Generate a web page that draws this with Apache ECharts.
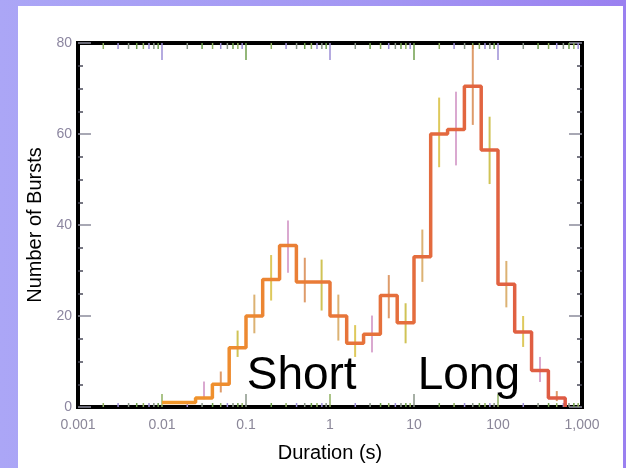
<!DOCTYPE html>
<html>
<head>
<meta charset="utf-8">
<script src="https://cdn.jsdelivr.net/npm/echarts@6/dist/echarts.min.js"></script>
<style>
  html, body {
    margin: 0;
    padding: 0;
    width: 626px;
    height: 468px;
    overflow: hidden;
    background: linear-gradient(90deg, #aba6f6 0%, #a396f3 60%, #9a80f0 100%);
  }
  .panel {
    position: absolute;
    left: 18px;
    top: 6px;
    width: 605px;
    height: 462px;
    background: #fff;
  }
  #chart {
    position: absolute;
    left: 0;
    top: 0;
    width: 626px;
    height: 468px;
  }
</style>
</head>
<body>
<div class="panel"></div>
<div id="chart"></div>
<script>
// bin edges in seconds (0.2 dex bins)
const binEdges = [0.01, 0.0158, 0.0251, 0.0398, 0.0631, 0.1, 0.158, 0.251, 0.398, 0.631,
  1, 1.58, 2.51, 3.98, 6.31, 10, 15.8, 25.1, 39.8, 63.1, 100, 158, 251, 398, 631];
// number of bursts per bin
const burstCounts = [1, 1, 2, 5, 13, 20, 28, 35.5, 27.5, 27.5, 20, 14, 16, 24.5, 18.5,
  33, 60, 61, 70.5, 56.5, 27, 16.5, 8, 2];
// error bar ends (null = no bar)
const errLow = [null, null, 1.7, 3.2, 11, 16.2, 23.4, 29.5, 23, 21.2, 14.6, 11, 12, 19.5, 14,
  27.5, 52.7, 53.1, 62, 49, 21.9, 13.2, 5.5, 1.3];
const errHigh = [null, null, 5.6, 7.8, 16.8, 24.7, 33.4, 41, 32.8, 32.4, 24.7, 18, 20.1, 29, 22.8,
  39, 68, 69.3, 79.6, 63.8, 32.1, 20, 11, 3.5];
// x axis
const decades = [0.001, 0.01, 0.1, 1, 10, 100, 1000];
const xTickLabels = ['0.001', '0.01', '0.1', '1', '10', '100', '1,000'];
const minorSteps = [2, 3, 4, 5, 6, 7, 8, 9];
// text annotations
const annotText = ['Short', 'Long'];
const annotX = [0.46, 45];
const annotY = [6.8, 6.8];

// styles
const errColors = ['#d6a45a', '#d8c040', '#d49ac8', '#d88a50', '#c8b838'];
const tickColors = ['#8fb060', '#9d8fd6', '#8a9688', '#6f9f4c'];
const fontFamily = "'Liberation Sans', Arial, sans-serif";

const stepData = binEdges.slice(0, burstCounts.length).map((e, i) => [e, burstCounts[i]]);
stepData.push([binEdges[burstCounts.length], 0]);

const errData = [];
burstCounts.forEach((c, i) => {
  if (errLow[i] == null) return;
  const center = Math.sqrt(binEdges[i] * binEdges[i + 1]);
  errData.push([center, errLow[i], errHigh[i], i % errColors.length]);
});

// log axis tick marks along top and bottom edges: [value, side, major]
const tickData = [];
decades.forEach((d, di) => {
  [0, 1].forEach(side => {
    if (di > 0 && di < decades.length - 1) tickData.push([d, side, 1]);
    if (di < decades.length - 1) {
      minorSteps.forEach(m => tickData.push([d * m, side, 0]));
    }
  });
});

const annotData = annotText.map((t, i) => [annotX[i], annotY[i], t]);

const chart = echarts.init(document.getElementById('chart'));

const option = {
  animation: false,
  grid: {
    left: 78,
    right: 44,
    top: 43,
    bottom: 59,
    show: true,
    borderColor: '#000',
    borderWidth: 4,
    backgroundColor: 'transparent'
  },
  xAxis: {
    type: 'log',
    logBase: 10,
    min: 0.001,
    max: 1000,
    axisLine: { show: false },
    axisTick: { show: false },
    splitLine: { show: false },
    axisLabel: {
      color: '#8a8698',
      fontSize: 14,
      fontFamily: fontFamily,
      margin: 11,
      formatter: v => xTickLabels[Math.round(Math.log10(v)) + 3]
    },
    name: 'Duration (s)',
    nameLocation: 'middle',
    nameGap: 36,
    nameTextStyle: { color: '#000', fontSize: 20, fontFamily: fontFamily }
  },
  yAxis: [
    {
      type: 'value',
      min: 0,
      max: 80,
      interval: 20,
      position: 'left',
      axisLine: { show: false },
      splitLine: { show: false },
      axisTick: { show: true, inside: true, length: 13, lineStyle: { color: '#8c8c9c', width: 1.5 } },
      minorTick: { show: true, splitNumber: 4, length: 5, lineStyle: { color: '#4a4a5a', width: 1.5 } },
      axisLabel: { color: '#8c86a0', fontSize: 14, fontFamily: fontFamily, margin: 6 },
      name: 'Number of Bursts',
      nameLocation: 'middle',
      nameGap: 32,
      nameTextStyle: { color: '#000', fontSize: 20, fontFamily: fontFamily }
    },
    {
      type: 'value',
      min: 0,
      max: 80,
      interval: 20,
      position: 'right',
      axisLine: { show: false },
      splitLine: { show: false },
      axisTick: { show: true, inside: true, length: 13, lineStyle: { color: '#8c8c9c', width: 1.5 } },
      minorTick: { show: true, splitNumber: 4, length: 5, lineStyle: { color: '#4a4a5a', width: 1.5 } },
      axisLabel: { show: false }
    }
  ],
  series: [
    {
      // scanned-look tick marks on the log axis
      type: 'custom',
      silent: true,
      z: 1,
      data: tickData,
      renderItem: (params, api) => {
        const side = api.value(1);
        const major = api.value(2);
        const p = api.coord([api.value(0), side ? 80 : 0]);
        const len = major ? (side ? 17 : 13) : (side ? 6 : 4);
        const dir = side ? 1 : -1;
        return {
          type: 'line',
          shape: { x1: p[0], y1: p[1], x2: p[0], y2: p[1] + dir * len },
          style: { stroke: tickColors[params.dataIndex % tickColors.length], lineWidth: 1.5 }
        };
      }
    },
    {
      // error bars
      type: 'custom',
      silent: true,
      z: 2,
      data: errData,
      renderItem: (params, api) => {
        const lo = api.coord([api.value(0), api.value(1)]);
        const hi = api.coord([api.value(0), api.value(2)]);
        return {
          type: 'line',
          shape: { x1: lo[0], y1: lo[1], x2: hi[0], y2: hi[1] },
          style: { stroke: errColors[api.value(3)], lineWidth: 2, opacity: 0.85 }
        };
      }
    },
    {
      type: 'line',
      step: 'end',
      symbol: 'none',
      z: 3,
      data: stepData,
      lineStyle: {
        width: 3.5,
        color: new echarts.graphic.LinearGradient(0, 0, 1, 0, [
          { offset: 0, color: '#f29a28' },
          { offset: 0.45, color: '#e7753a' },
          { offset: 1, color: '#de5a44' }
        ])
      }
    },
    {
      // Short / Long labels
      type: 'custom',
      silent: true,
      z: 4,
      data: annotData,
      renderItem: (params, api) => {
        const p = api.coord([api.value(0), api.value(1)]);
        return {
          type: 'text',
          x: p[0],
          y: p[1],
          style: {
            text: annotText[params.dataIndex],
            fill: '#000',
            font: '46px ' + fontFamily,
            align: 'center',
            verticalAlign: 'middle'
          }
        };
      }
    }
  ]
};

chart.setOption(option);
</script>
</body>
</html>
